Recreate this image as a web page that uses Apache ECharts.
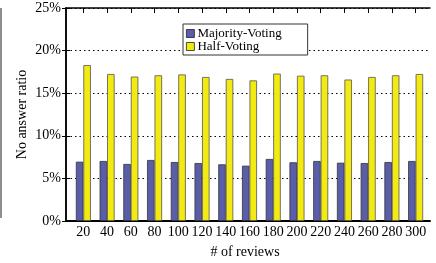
<!DOCTYPE html>
<html><head><meta charset="utf-8">
<script src="https://cdn.jsdelivr.net/npm/echarts@6/dist/echarts.min.js"></script>
<style>html,body{margin:0;padding:0;background:#fff}#c{width:436px;height:263px}</style>
</head><body><div id="c"></div>
<script>
const categories = ['20','40','60','80','100','120','140','160','180','200','220','240','260','280','300'];
const majorityVoting = [6.96,7.04,6.69,7.16,6.92,6.80,6.65,6.49,7.28,6.89,7.04,6.84,6.80,6.92,7.04];
const halfVoting = [18.3,17.25,16.95,17.1,17.2,16.9,16.67,16.5,17.3,17.05,17.1,16.6,16.9,17.1,17.25];
const yTicks = [0,5,10,15,20,25];

const font = '"Liberation Serif"';
const chart = echarts.init(document.getElementById('c'));
chart.setOption({
  animation:false,
  legend:{
    data:['Majority-Voting','Half-Voting'],
    orient:'vertical', left:183, top:24,
    itemWidth:8, itemHeight:8, itemGap:0,
    padding:[3,26,2,3],
    backgroundColor:'#fff', borderColor:'#333', borderWidth:1,
    textStyle:{fontFamily:font, fontSize:13, color:'#000', padding:[0,0,0,-2], lineHeight:10},
    icon:'rect',
    itemStyle:{borderColor:'#222', borderWidth:0.8}
  },
  grid:[
    {left:66, right:6, top:8, bottom:42, containLabel:false},
    {left:71.5, right:8.5, top:8, bottom:42, containLabel:false}
  ],
  xAxis:[
    {gridIndex:0, type:'value', min:0, max:1, position:'bottom',
     axisLine:{show:true, onZero:false, lineStyle:{color:'#000', width:2}},
     axisTick:{show:false}, axisLabel:{show:false}, splitLine:{show:false}},
    {gridIndex:0, type:'value', min:0, max:1, position:'top',
     axisLine:{show:true, onZero:false, lineStyle:{color:'#000', width:1.5}},
     axisTick:{show:false}, axisLabel:{show:false}, splitLine:{show:false}},
    {gridIndex:1, type:'category', data:categories, position:'bottom',
     axisLine:{show:false}, axisTick:{show:false},
     axisLabel:{fontFamily:font, fontSize:14, color:'#000', margin:4, interval:0}},
    {gridIndex:1, type:'category', data:categories, position:'top',
     axisLine:{show:false},
     axisTick:{show:true, inside:true, alignWithLabel:true, interval:0, length:5, lineStyle:{color:'#000'}},
     axisLabel:{show:false}}
  ],
  yAxis:[
    {gridIndex:0, type:'value', min:0, max:25, interval:5, position:'left',
     name:'No answer ratio', nameLocation:'middle', nameGap:37, nameMoveOverlap:false,
     nameTextStyle:{fontFamily:font, fontSize:14, color:'#000'},
     axisLine:{show:true, lineStyle:{color:'#000', width:1.5}},
     axisTick:{show:true, inside:true, length:4, lineStyle:{color:'#000'}},
     axisLabel:{fontFamily:font, fontSize:14, color:'#000', margin:5,
       formatter:v=> yTicks.includes(v) ? v+'%' : ''},
     splitLine:{show:true, lineStyle:{color:'#000', type:[1.5,3], width:1}}},
    {gridIndex:0, type:'value', min:0, max:25, interval:5, position:'right',
     axisLine:{show:true, lineStyle:{color:'#000', width:1.5}},
     axisTick:{show:true, inside:true, length:4, lineStyle:{color:'#000'}},
     axisLabel:{show:false}, splitLine:{show:false}},
    {gridIndex:1, type:'value', min:0, max:25, show:false}
  ],
  series:[
    {name:'Majority-Voting', type:'bar', xAxisIndex:2, yAxisIndex:2, data:majorityVoting,
     barWidth:7.5, barGap:'0%',
     itemStyle:{color:'#5a5ea8', borderColor:'#333', borderWidth:0.8}},
    {name:'Half-Voting', type:'bar', xAxisIndex:2, yAxisIndex:2, data:halfVoting,
     barWidth:7.5, barGap:'0%',
     itemStyle:{color:'#f2ea10', borderColor:'#555', borderWidth:0.8}}
  ],
  graphic:[
    {type:'text', x:245, y:252, style:{text:'# of reviews', font:'14px "Liberation Serif"', fill:'#000', align:'center', verticalAlign:'middle'}},
    {type:'line', shape:{x1:1, y1:8, x2:1, y2:218}, style:{stroke:'#444', lineWidth:1.2}}
  ]
});
</script></body></html>
